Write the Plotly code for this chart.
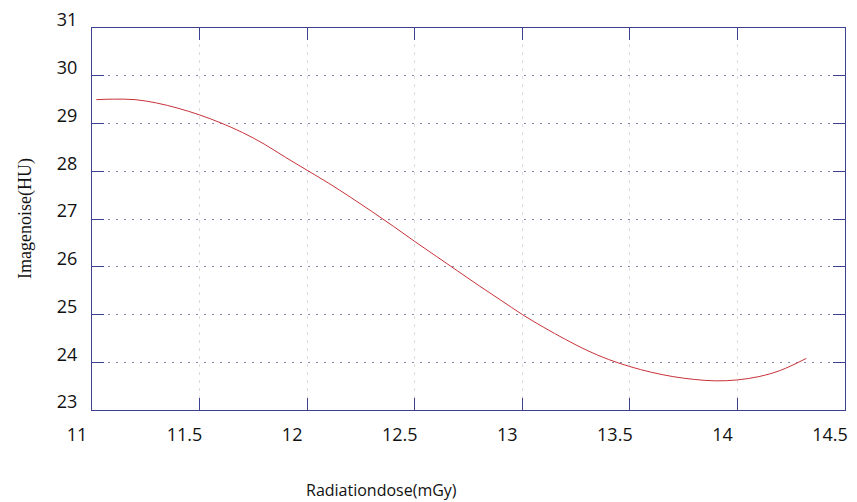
import plotly.graph_objects as go

dose = [11.02, 11.1, 11.2, 11.3, 11.4, 11.5, 11.6, 11.7, 11.8, 11.9, 12.0,
        12.1, 12.2, 12.3, 12.4, 12.5, 12.6, 12.7, 12.8, 12.9, 13.0,
        13.1, 13.2, 13.3, 13.4, 13.5, 13.6, 13.7, 13.8, 13.9, 14.0,
        14.1, 14.2, 14.32]
noise = [29.50, 29.51, 29.50, 29.43, 29.32, 29.18, 29.01, 28.81, 28.57, 28.29, 28.02,
         27.75, 27.46, 27.16, 26.85, 26.53, 26.22, 25.91, 25.60, 25.30, 25.00,
         24.73, 24.48, 24.25, 24.06, 23.91, 23.79, 23.70, 23.64, 23.61, 23.63,
         23.70, 23.83, 24.08]

x_ticks = [11, 11.5, 12, 12.5, 13, 13.5, 14, 14.5]
y_ticks = [23, 24, 25, 26, 27, 28, 29, 30, 31]

axis_col = "#3d4191"
tick_font = dict(family="Open Sans", size=18, color="#111111")

fig = go.Figure()
fig.add_trace(go.Scatter(x=dose, y=noise, mode="lines", line_shape="spline",
                         line=dict(color="#c8323a", width=1), showlegend=False))

fig.update_layout(
    width=857, height=502,
    margin=dict(l=92, r=12, t=28, b=92, autoexpand=False),
    plot_bgcolor="white", paper_bgcolor="white",
)
fig.update_xaxes(
    range=[11, 14.5], tickvals=x_ticks, ticktext=[f"{v:g}" for v in x_ticks],
    showline=True, linecolor=axis_col, linewidth=1, mirror="allticks",
    ticks="inside", ticklen=12, tickcolor=axis_col,
    showgrid=True, gridcolor="#dcdcdc", griddash="3px,5px", gridwidth=1,
    zeroline=False, tickfont=tick_font, ticklabelshift=-15, ticklabelstandoff=8,
    automargin=False,
)
fig.update_yaxes(
    range=[23, 31], tickvals=y_ticks,
    showline=True, linecolor=axis_col, linewidth=1, mirror="allticks",
    ticks="inside", ticklen=12, tickcolor=axis_col,
    showgrid=True, gridcolor="#8585b0", griddash="2px,6px", gridwidth=1,
    zeroline=False, tickfont=tick_font, ticklabelshift=-8, ticklabelstandoff=10,
    automargin=False,
)
fig.add_annotation(text="Imagenoise(HU)", xref="paper", yref="paper", x=0, y=0.5,
                   xanchor="center", yanchor="middle",
                   xshift=-67, textangle=-90, showarrow=False,
                   font=dict(family="Liberation Serif", size=18, color="#111111"))
fig.add_annotation(text="Radiationdose(mGy)", xref="paper", yref="paper", x=0.385, y=0,
                   yshift=-80, yanchor="middle", showarrow=False,
                   font=dict(family="Open Sans", size=16, color="#111111"))
fig.write_html("out.html", config={"displayModeBar": False},
               post_script="document.body.style.margin='0';")
